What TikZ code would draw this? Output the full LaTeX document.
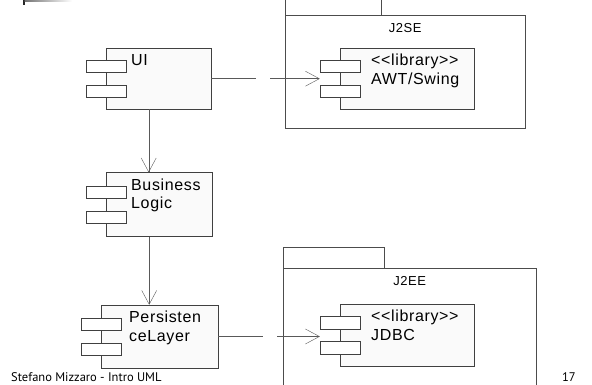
\documentclass[tikz,border=0pt]{standalone}
\usepackage{fontspec}
\setmainfont[LetterSpace=4]{Liberation Sans}
\newfontfamily\piedfont{PT Sans}
\usetikzlibrary{arrows.meta,positioning}

% deux petits rectangles du composant
\newcommand{\icones}[1]{%
  \node[icone] (#1-a) at ([yshift=12.5pt]#1.west) {};
  \node[icone] (#1-b) at ([yshift=-12.5pt]#1.west) {};}

\begin{document}
\begin{tikzpicture}[x=1pt, y=-1pt]
                \tikzset{ comp/.style={rectangle,draw=black!75,fill=black!2,inner sep=0pt},
                        icone/.style={rectangle,draw=black!75,fill=white,minimum width=40pt,minimum height=12.5pt,inner sep=0pt},
                        texte/.style={anchor=north west,inner sep=0pt,align=left,font=\fontsize{16}{18.5}\selectfont},
                        paquet/.style={rectangle,draw=black!70,fill=white,inner sep=0pt},
                        arrow/.style={-{Straight Barb[length=14pt,width=15pt]}, draw=black!65},
                        dep/.style={arrow, dash pattern=on 45pt off 14pt on 400pt}}
                \useasboundingbox (0,0) rectangle (592,385);
                \clip (0,0) rectangle (592,385);

                % coin du transparent
                \fill[black!85] (22.5,0) rectangle (24.5,5);
                \shade[left color=black!55, right color=white] (24.5,0) rectangle (72,1.2);

                % Paquetages
                \node[paquet, minimum width=96pt, minimum height=30pt, anchor=south west] (se-tab) at (285,15) {};
                \node[paquet, minimum width=240pt, minimum height=113pt, anchor=north west] (se) at (285,15) {};
                \node[anchor=base, inner sep=0pt, font=\fontsize{13}{15}\selectfont] (se-nom) at ([yshift=-18pt]se.north) {J2SE};
                \node[paquet, minimum width=101pt, minimum height=21pt, anchor=south west] (ee-tab) at (283,268) {};
                \node[paquet, minimum width=253pt, minimum height=140pt, anchor=north west] (ee) at (283,268) {};
                \node[anchor=base, inner sep=0pt, font=\fontsize{13}{15}\selectfont] (ee-nom) at ([yshift=-17pt]ee.north) {J2EE};

                % Composants
                \node[comp, minimum width=105pt, minimum height=61pt, anchor=north west] (ui) at (106,48) {};
                \icones{ui}
                \node[texte] (ui-t) at ([shift={(25pt,-6pt)}]ui.north west) {UI};

                \node[comp, minimum width=106pt, minimum height=64pt, below=63pt of ui.south west, anchor=north west] (bl) {};
                \icones{bl}
                \node[texte] (bl-t) at ([shift={(25pt,-6pt)}]bl.north west) {Business\\Logic};

                \node[comp, minimum width=117pt, minimum height=63pt, below=68pt of bl.south west, xshift=-5pt, anchor=north west] (pl) {};
                \icones{pl}
                \node[texte] (pl-t) at ([shift={(28pt,-6pt)}]pl.north west) {Persisten\\ceLayer};

                \node[comp, minimum width=134pt, minimum height=61pt, anchor=north west] (awt) at (340,48) {};
                \icones{awt}
                \node[texte] (awt-t) at ([shift={(31pt,-6pt)}]awt.north west) {{<}{<}library{>}{>}\\AWT/Swing};

                \node[comp, minimum width=134pt, minimum height=62pt, anchor=north west] (jdbc) at (340,304) {};
                \icones{jdbc}
                \node[texte] (jdbc-t) at ([shift={(31pt,-6pt)}]jdbc.north west) {{<}{<}library{>}{>}\\JDBC};

                % Flèches
                \draw[dep] (ui.east) -- (ui.east -| awt-a.west);
                \draw[arrow] ([xshift=-10pt]ui.south) -- ([xshift=-10pt]ui.south |- bl.north);
                \draw[arrow] ([xshift=-10pt]bl.south) -- ([xshift=-10pt]bl.south |- pl.north);
                \draw[dep] (pl.east) -- (pl.east -| jdbc-a.west);

                % pied de page
                \node[anchor=base west, inner sep=0pt, font=\piedfont\fontsize{12.5}{14}\selectfont] (pied) at (11,381) {Stefano Mizzaro - Intro UML};
                \node[anchor=base east, inner sep=0pt, font=\piedfont\fontsize{12.5}{14}\selectfont] (page) at (576,381) {17};
            \end{tikzpicture}
\end{document}
